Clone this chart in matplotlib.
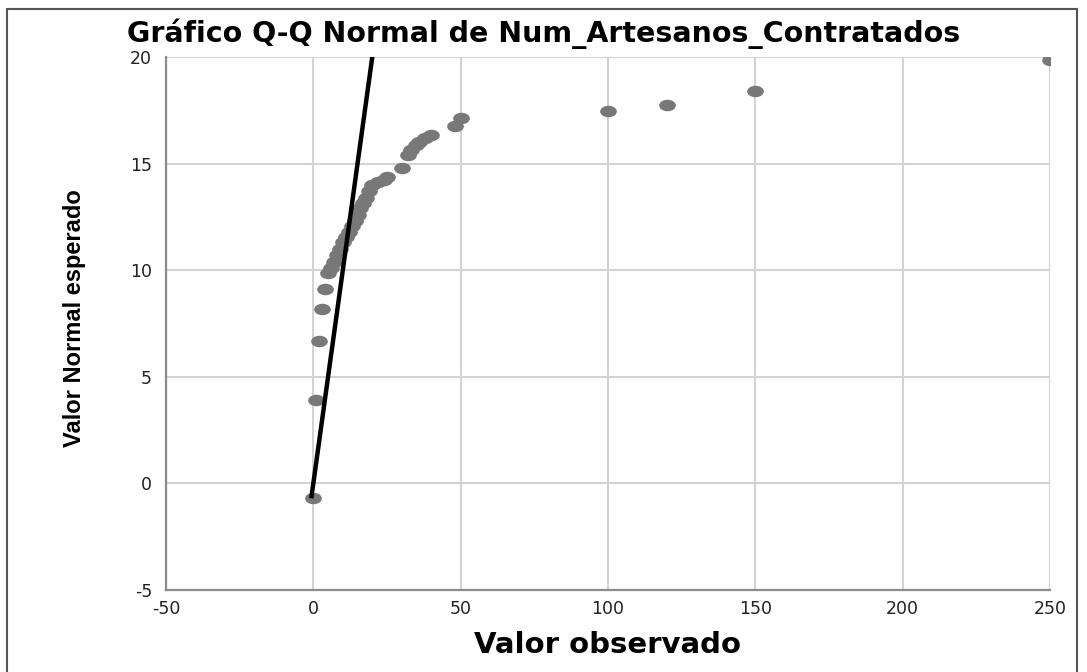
import numpy as np
import matplotlib.pyplot as plt
from matplotlib.path import Path
from matplotlib.patches import Rectangle

# valores observados (unicos) y su valor normal esperado
observado = [0, 1, 2, 3, 4, 5, 6, 7, 8, 9, 10, 11, 12, 13, 14, 15, 16, 17, 18,
             19, 20, 22, 24, 25, 30, 32, 33, 35, 36, 38, 40, 48, 50, 100, 120,
             150, 250]
esperado = [-0.68, 3.9, 6.7, 8.2, 9.1, 9.85, 10.1, 10.4, 10.7, 11.0, 11.3,
            11.55, 11.8, 12.05, 12.3, 12.6, 12.9, 13.15, 13.4, 13.7, 14.0,
            14.15, 14.25, 14.35, 14.8, 15.4, 15.65, 15.85, 16.0, 16.2, 16.35,
            16.75, 17.15, 17.45, 17.75, 18.4, 19.85]

# recta de referencia y = x
recta = [-0.7, 25]

x_ticks = [-50, 0, 50, 100, 150, 200, 250]
y_ticks = [-5, 0, 5, 10, 15, 20]

titulo = "Gráfico Q-Q Normal de Num_Artesanos_Contratados"

plt.rcParams['axes.unicode_minus'] = False

W, H = 1087, 672
fig = plt.figure(figsize=(W / 100, H / 100), dpi=100)
ax = fig.add_axes([166 / W, 82 / H, 884 / W, 533 / H])

# marcador eliptico (los puntos se ven achatados)
circ = Path.unit_circle()
elipse = Path(circ.vertices * np.array([1.45, 1.0]), circ.codes)

ax.grid(True, color='#d3d3d3', lw=1.5)
ax.set_axisbelow(True)
ax.plot(observado, esperado, ls='none', marker=elipse, ms=12,
        color='#787878', mec='none', zorder=2)
ax.plot(recta, recta, color='black', lw=3.2, solid_capstyle='butt', zorder=3)

ax.set_xlim(-50, 250)
ax.set_ylim(-5, 20)
ax.set_xticks(x_ticks)
ax.set_yticks(y_ticks)
ax.tick_params(length=0, labelsize=12.5, labelcolor='#222222')
ax.tick_params(axis='x', pad=7)
ax.tick_params(axis='y', pad=10)
for s in ['top', 'right']:
    ax.spines[s].set_visible(False)
for s in ['left', 'bottom']:
    ax.spines[s].set_color('#8c8c8c')
    ax.spines[s].set_linewidth(1.6)

fig.text(0.5, 1 - 34 / H, titulo, ha='center', va='center', fontsize=20.5,
         family='DejaVu Sans', weight='bold')
fig.text(608 / W, 1 - 645 / H, 'Valor observado', ha='center', va='center',
         fontsize=21, family='DejaVu Sans', weight='bold')
fig.text(75 / W, 1 - 318 / H, 'Valor Normal esperado', ha='center',
         va='center', rotation=90, fontsize=17,
         family=['Liberation Sans Narrow', 'Liberation Sans'], weight='bold')

# marco exterior
fig.add_artist(Rectangle((7 / W, -0.05), 1070 / W, 0.05 + (H - 9) / H,
                         transform=fig.transFigure, fill=False,
                         ec='#555555', lw=1.5))

fig.savefig('out.png', dpi=100)
